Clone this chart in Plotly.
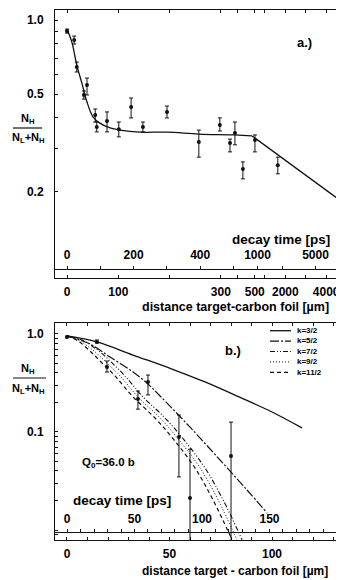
import numpy as np
import plotly.graph_objects as go

# page: 344x580 window, body margin 8px -> figure drawn from (8, 8)
OFF = 8
W, H = 344 - OFF, 580 - OFF
ML = 55 - OFF
FONT = "Liberation Sans, Arial, sans-serif"
INK = "#111111"

# ---------------- Panel a data ----------------
A_DIST = [0, 14, 19, 33, 39, 55, 58, 78, 101, 125, 148, 195, 257, 298, 354, 383, 430, 510, 1630]
A_RATIO = [0.902, 0.829, 0.644, 0.496, 0.544, 0.411, 0.367, 0.389, 0.360, 0.443, 0.367, 0.423,
           0.319, 0.374, 0.316, 0.347, 0.248, 0.325, 0.257]
A_UPPER = [0.919, 0.861, 0.675, 0.515, 0.581, 0.435, 0.385, 0.423, 0.385, 0.482, 0.385, 0.447,
           0.357, 0.400, 0.328, 0.385, 0.265, 0.341, 0.277]
A_LOWER = [0.885, 0.799, 0.615, 0.477, 0.496, 0.385, 0.351, 0.351, 0.335, 0.400, 0.351, 0.400,
           0.277, 0.354, 0.291, 0.311, 0.226, 0.291, 0.237]
A_FIT_DIST = [0, 10, 19, 29, 39, 51, 64, 84, 103, 142, 195, 257, 383, 484]
A_FIT_RATIO = [0.919, 0.806, 0.656, 0.554, 0.464, 0.403, 0.381, 0.364, 0.357, 0.350, 0.350,
               0.344, 0.341, 0.338]
A_TAIL_DIST = [484, 4874]
A_TAIL_RATIO = [0.338, 0.180]

A_DIST_LABELS = [0, 100, 300, 500, 2000, 4000]
A_DIST_MINOR = [200, 400, 1000, 3000]
A_TIME_LABELS = [0, 200, 400, 1000, 5000]
A_TIME_MINOR = [100, 300, 500, 2000, 10000]
A_Y_LABELS = [1.0, 0.5, 0.2]
A_Y_TEXT = ["1.0", "0.5", "0.2"]
A_Y_MINOR = [0.9, 0.8, 0.7, 0.6, 0.4, 0.3]

# ---------------- Panel b data ----------------
B_DIST = [0, 14.6, 19.5, 34.6, 39.5, 54.6, 60.0, 80.0]
B_RATIO = [0.932, 0.829, 0.460, 0.217, 0.324, 0.089, 0.0212, 0.0569]
B_UPPER = [0.950, 0.868, 0.530, 0.262, 0.381, 0.149, 0.0667, 0.126]
B_LOWER = [0.915, 0.809, 0.409, 0.171, 0.239, 0.0348, 0.005, 0.005]

K32_DIST = [0, 14.6, 32.2, 51.2, 67.3, 83.9, 100, 114.6]
K32_RATIO = [0.955, 0.829, 0.610, 0.439, 0.324, 0.228, 0.160, 0.110]
K52_DIST = [0, 11.2, 21.0, 32.2, 39.5, 45.4, 60.0, 74.6, 87.8, 97.6]
K52_RATIO = [0.955, 0.791, 0.582, 0.409, 0.309, 0.233, 0.112, 0.0519, 0.0256, 0.0149]
K72_DIST = [0, 8.3, 16.1, 22.0, 28.3, 37.1, 47.8, 57.1, 67.3, 76.1, 85.4]
K72_RATIO = [0.955, 0.848, 0.655, 0.506, 0.373, 0.228, 0.139, 0.0830, 0.0430, 0.0203, 0.00794]
K92_DIST = [0, 6.3, 13.7, 19.5, 25.9, 34.6, 45.4, 54.6, 64.9, 73.7, 82.9]
K92_RATIO = [0.955, 0.848, 0.655, 0.506, 0.373, 0.228, 0.139, 0.0830, 0.0430, 0.0203, 0.00794]
K112_DIST = [0, 5.4, 11.7, 17.1, 23.4, 32.2, 42.9, 52.2, 62.4, 71.2, 80.5]
K112_RATIO = [0.955, 0.848, 0.655, 0.506, 0.373, 0.228, 0.139, 0.0830, 0.0430, 0.0203, 0.00794]

K_LABELS = ["k=3/2", "k=5/2", "k=7/2", "k=9/2", "k=11/2"]
B_TIME_LABELS = [0, 50, 100, 150, 200]

# --------- broken (piecewise) x-scale of panel a ---------
DIST_KNOTS = [0, 300, 500, 5000]
DIST_AXIS = [0, 300, 366, 545]


def dist_pos(d):
    return np.interp(d, DIST_KNOTS, DIST_AXIS)


def time_pos(t):
    t = np.asarray(t, float)
    return np.where(t <= 500, t * 0.649, 322.6 + 161.8 * np.log10(np.maximum(t, 1.0) / 500.0))


# page pixel -> paper coordinates
def px_x(px):
    return (px - OFF - ML) / (W - ML)


def px_y(py):
    return 1 - (py - OFF) / H


DASHES = ["solid", "9px,2px,2px,2px", "5px,2px,1px,2px,1px,2px", "1px,2px", "4px,3px"]
WIDTHS = [1.3, 1.2, 1.1, 1.0, 1.2]
CURVES = [(K32_DIST, K32_RATIO), (K52_DIST, K52_RATIO), (K72_DIST, K72_RATIO),
          (K92_DIST, K92_RATIO), (K112_DIST, K112_RATIO)]

fig = go.Figure()

# panel a
fig.add_trace(go.Scatter(x=dist_pos(A_FIT_DIST), y=A_FIT_RATIO, mode="lines", line_shape="spline",
                         line=dict(color=INK, width=1.3), xaxis="x", yaxis="y"))
fig.add_trace(go.Scatter(x=dist_pos(A_TAIL_DIST), y=A_TAIL_RATIO, mode="lines",
                         line=dict(color=INK, width=1.3), xaxis="x", yaxis="y"))
fig.add_trace(go.Scatter(
    x=dist_pos(A_DIST), y=A_RATIO, mode="markers", xaxis="x", yaxis="y",
    marker=dict(color=INK, size=4),
    error_y=dict(type="data", symmetric=False,
                 array=[u - v for u, v in zip(A_UPPER, A_RATIO)],
                 arrayminus=[v - l for v, l in zip(A_RATIO, A_LOWER)],
                 color=INK, thickness=1, width=2)))
fig.add_trace(go.Scatter(x=[0], y=[1], mode="markers", marker=dict(opacity=0),
                         xaxis="x3", yaxis="y", hoverinfo="skip"))

# panel b
for (dx, dy), dash, w in zip(CURVES, DASHES, WIDTHS):
    fig.add_trace(go.Scatter(x=dx, y=dy, mode="lines", line_shape="spline",
                             line=dict(color=INK, width=w, dash=dash), xaxis="x2", yaxis="y2"))
fig.add_trace(go.Scatter(
    x=B_DIST, y=B_RATIO, mode="markers", xaxis="x2", yaxis="y2",
    marker=dict(color=INK, size=4),
    error_y=dict(type="data", symmetric=False,
                 array=[u - v for u, v in zip(B_UPPER, B_RATIO)],
                 arrayminus=[v - l for v, l in zip(B_RATIO, B_LOWER)],
                 color=INK, thickness=1, width=2)))
fig.add_trace(go.Scatter(x=[0], y=[1], mode="markers", marker=dict(opacity=0),
                         xaxis="x4", yaxis="y2", hoverinfo="skip"))

tickfont = dict(family=FONT, size=12, color="black", weight="bold")
common = dict(showgrid=False, zeroline=False, showline=True, linecolor=INK, linewidth=1,
              tickcolor=INK, tickfont=tickfont, ticklen=3, tickwidth=1)

fig.update_layout(
    width=W, height=H, margin=dict(l=ML, r=0, t=0, b=0, autoexpand=False),
    paper_bgcolor="white", plot_bgcolor="white", showlegend=False, hovermode=False,
    xaxis=dict(**common, domain=[0, 1], anchor="y", range=[-23.4, 540], ticks="inside",
               mirror="ticks", tickmode="array", tickvals=list(dist_pos(A_DIST_LABELS)),
               ticktext=[str(v) for v in A_DIST_LABELS], ticklabelstandoff=3,
               minor=dict(tickmode="array", tickvals=list(dist_pos(A_DIST_MINOR)),
                          ticks="inside", ticklen=3, tickcolor=INK)),
    yaxis=dict(**common, domain=[px_y(278), px_y(10)], anchor="x", type="log",
               range=[-1.049, 0.041], ticks="inside", tickmode="array",
               tickvals=A_Y_LABELS, ticktext=A_Y_TEXT, ticklabelstandoff=8,
               minor=dict(tickmode="array", tickvals=A_Y_MINOR, ticks="inside",
                          ticklen=3, tickcolor=INK)),
    xaxis3=dict(**common, overlaying="x", anchor="free", position=px_y(269), side="top",
                range=[-23.4, 540], ticks="outside", tickmode="array",
                tickvals=list(time_pos(A_TIME_LABELS)),
                ticktext=[str(v) for v in A_TIME_LABELS], ticklabelstandoff=2,
                minor=dict(tickmode="array", tickvals=list(time_pos(A_TIME_MINOR)),
                           ticks="outside", ticklen=3, tickcolor=INK)),
    xaxis2=dict(**common, domain=[0, 1], anchor="y2", range=[-5.85, 135.1], ticks="inside",
                mirror="ticks", tick0=0, dtick=50, ticklabelstandoff=3,
                minor=dict(dtick=10, tick0=0, ticks="inside", ticklen=3, tickcolor=INK)),
    yaxis2=dict(**common, domain=[px_y(540), px_y(323)], anchor="x2", type="log",
                range=[-2.102, 0.112], ticks="inside", tickmode="array",
                tickvals=[1.0, 0.1], ticktext=["1.0", "0.1"], ticklabelstandoff=8,
                minor=dict(dtick="D1", ticks="inside", ticklen=3, tickcolor=INK)),
    xaxis4=dict(**common, overlaying="x2", anchor="free", position=px_y(532), side="top",
                range=[-8.89, 205.2], ticks="outside", tickmode="array",
                tickvals=B_TIME_LABELS, ticktext=[str(v) for v in B_TIME_LABELS],
                ticklabelstandoff=1,
                minor=dict(dtick=10, tick0=0, ticks="outside", ticklen=3, tickcolor=INK)),
)

ann = []
shapes = []


def text(px, py, s, size=12, xanchor="center", bold=True):
    ann.append(dict(x=px_x(px), y=px_y(py), xref="paper", yref="paper", text=s,
                    showarrow=False, xanchor=xanchor, yanchor="middle", borderpad=0,
                    align="left",
                    font=dict(family=FONT, size=size, color="black",
                              weight="bold" if bold else "normal")))


# panel labels & titles
text(304, 43, "a.)", 13)
text(233, 350, "b.)", 13)
text(281, 239, "decay time [ps]", 13.5)
text(122, 500, "decay time [ps]", 13.5)
text(141, 307, "distance target-carbon foil [µm]", 12.5, xanchor="left")
text(141, 571, "distance target - carbon foil [µm]", 12, xanchor="left")
text(108, 463, "Q<sub>0</sub>=36.0 b", 11.5)

# y-axis fraction titles
for num_y, bar_y, den_y, x1 in [(119, 128, 138, 42), (369, 378, 389, 46)]:
    text(28, num_y, "N<sub>H</sub>", 11)
    text(28, den_y, "N<sub>L</sub>+N<sub>H</sub>", 11)
    shapes.append(dict(type="line", xref="paper", yref="paper", x0=px_x(13), x1=px_x(x1),
                       y0=px_y(bar_y), y1=px_y(bar_y), line=dict(color=INK, width=1.2)))

# legend of panel b: one text block, line samples aligned with its rows
LEG_FONT = 8
LEG_MID = 351.5
row_h = 1.3 * LEG_FONT
LEG_Y = [LEG_MID + (i - 2) * row_h for i in range(5)]
for dash, w, ly in zip(DASHES, WIDTHS, LEG_Y):
    shapes.append(dict(type="line", xref="paper", yref="paper", x0=px_x(270), x1=px_x(291),
                       y0=px_y(ly), y1=px_y(ly), line=dict(color=INK, width=w, dash=dash)))
text(296, LEG_MID, "<br>".join(K_LABELS), LEG_FONT, xanchor="left")

fig.update_layout(annotations=ann, shapes=shapes)
fig.write_html("out.html")
